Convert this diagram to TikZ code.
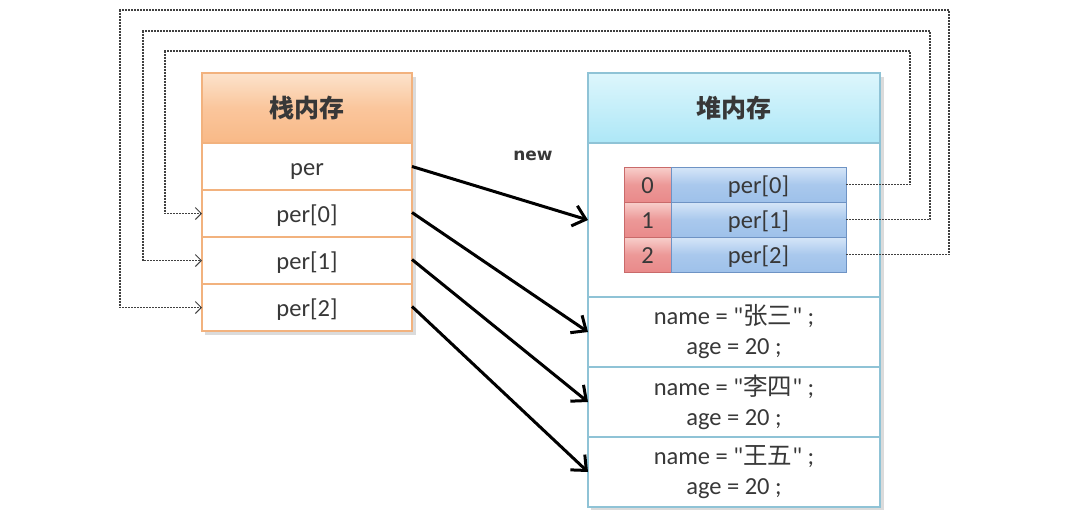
\documentclass[tikz,border=0pt]{standalone}
\usepackage{fontspec}
\setmainfont{Carlito}[Ligatures=TeXOff]
\newfontfamily\cjk{Noto Sans CJK SC}
\newfontfamily\newlblfont{DejaVu Sans}
\usetikzlibrary{arrows.meta}
\definecolor{txtgray}{HTML}{383838}
\definecolor{orgborder}{HTML}{F2B27E}
\definecolor{orgtop}{HTML}{FCE3CC}
\definecolor{orgbot}{HTML}{F9B987}
\definecolor{bluborder}{HTML}{8FC3D6}
\definecolor{blutop}{HTML}{DDF6FC}
\definecolor{blubot}{HTML}{ADE7F7}
\definecolor{idxtop}{HTML}{F8D0CC}
\definecolor{idxbot}{HTML}{E98A8A}
\definecolor{idxborder}{HTML}{C96A6A}
\definecolor{valtop}{HTML}{D6E6F8}
\definecolor{valbot}{HTML}{9EC1EA}
\definecolor{valborder}{HTML}{6E93C4}
\definecolor{dashgray}{HTML}{404040}
\tikzset{
  base/.style={outer sep=0pt, inner sep=0pt, anchor=north west, text=txtgray,
    font=\fontsize{24.5}{28}\selectfont},
  oneline/.style={text height=18, text depth=0},
  stackhead/.style={base, draw=orgborder, line width=1.2pt, top color=orgtop, bottom color=orgbot,
    middle color=orgbot!70!orgtop, minimum width=210, minimum height=70,
    font=\cjk\bfseries\fontsize{25}{28}\selectfont},
  stackrow/.style={base, oneline, draw=orgborder, line width=1.2pt, fill=white, minimum width=210, minimum height=47},
  heaphead/.style={base, draw=bluborder, line width=1.2pt, top color=blutop, bottom color=blubot,
    minimum width=292, minimum height=70, font=\cjk\bfseries\fontsize{25}{28}\selectfont},
  heaprow/.style={base, draw=bluborder, line width=1.2pt, fill=white, minimum width=292, align=center},
  idxcell/.style={base, oneline, draw=idxborder, line width=0.8pt, top color=idxtop, bottom color=idxbot,
    middle color=idxbot!80!idxtop, minimum width=47, minimum height=35},
  valcell/.style={base, oneline, draw=valborder, line width=0.8pt, top color=valtop, bottom color=valbot,
    middle color=valbot!80!valtop, minimum width=175, minimum height=35},
  refarrow/.style={line width=3pt, black, -{Straight Barb[length=12pt,width=21pt,line width=3pt]}},
  backref/.style={dashgray, line width=1.3pt, dash pattern=on 2pt off 1pt,
    -{Straight Barb[length=6pt,width=12pt,line width=1pt]}},
  shadow/.style={fill=black!14}
}
\begin{document}
\begin{tikzpicture}[x=1pt,y=-1pt]
\useasboundingbox (0,0) rectangle (1082,523);
% shadows
\fill[shadow] (205,77) rectangle (416,335);
\fill[shadow] (591,77) rectangle (884,510);
% stack memory
\node[stackhead] (sh) at (202,73) {栈内存};
\node[stackrow] (s0) at (202,143) {per};
\node[stackrow] (s1) at (202,190) {per[0]};
\node[stackrow] (s2) at (202,237) {per[1]};
\node[stackrow] (s3) at (202,284) {per[2]};
% heap memory
\node[heaphead] (hh) at (588,73) {堆内存};
\node[heaprow, minimum height=154] (hs) at (588,143) {};
\node[heaprow, minimum height=70] (n0) at (588,297) {name = "{\cjk 张三}" ;\\[2pt]age = 20 ;};
\node[heaprow, minimum height=70] (n1) at (588,367) {name = "{\cjk 李四}" ;\\[2pt]age = 20 ;};
\node[heaprow, minimum height=70] (n2) at (588,437) {name = "{\cjk 王五}" ;\\[2pt]age = 20 ;};
% array
\node[idxcell] (i0) at (624,167) {0};
\node[idxcell] (i1) at (624,202) {1};
\node[idxcell] (i2) at (624,237) {2};
\node[valcell] (v0) at (671,167) {per[0]};
\node[valcell] (v1) at (671,202) {per[1]};
\node[valcell] (v2) at (671,237) {per[2]};
% new label
\node[text=txtgray, font=\newlblfont\bfseries\fontsize{17}{20}\selectfont] (newlbl) at (533,156) {new};
% reference arrows
\draw[refarrow] (s0.east) -- (hs.west);
\draw[refarrow] ([yshift=1pt]s1.east) -- (n0.west);
\draw[refarrow] ([yshift=1pt]s2.east) -- (n1.west);
\draw[refarrow] ([yshift=1pt]s3.east) -- (n2.west);
% back references
\draw[backref] (v0.east) -| (910,51) -| (165,213.5) -- (s1.west);
\draw[backref] (v1.east) -| (930,31) -| (143,260.5) -- (s2.west);
\draw[backref] (v2.east) -| (949,10) -| (120,307.5) -- (s3.west);
\end{tikzpicture}
\end{document}
